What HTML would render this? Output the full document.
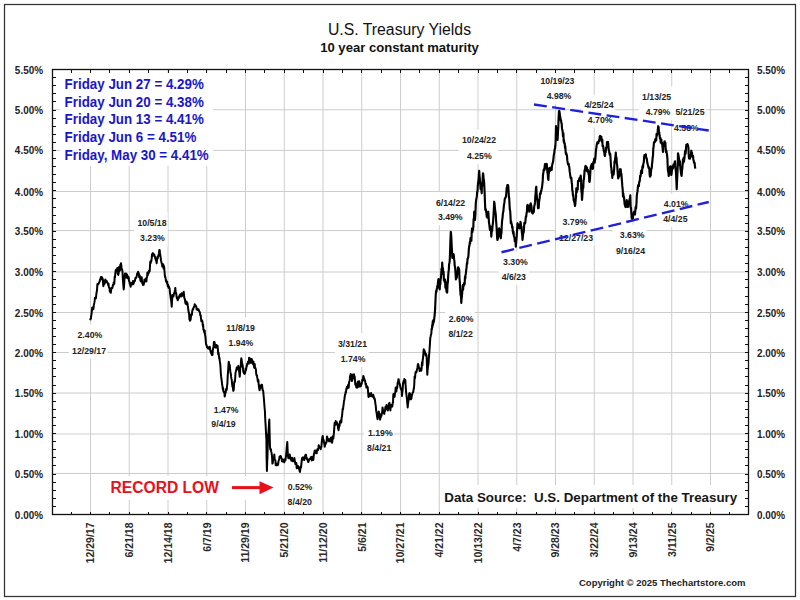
<!DOCTYPE html><html><head><meta charset="utf-8"><style>html,body{margin:0;padding:0;background:#fff;overflow:hidden}svg{display:block;font-family:"Liberation Sans",sans-serif;}</style></head><body>
<svg width="800" height="600" viewBox="0 0 800 600">
<rect x="0" y="0" width="800" height="600" fill="#fff"/>
<rect x="4.5" y="4.5" width="791" height="592" fill="none" stroke="#333" stroke-width="1.25"/>
<path d="M90.5 69.5V514.5M129.25 69.5V514.5M168.0 69.5V514.5M206.75 69.5V514.5M245.5 69.5V514.5M284.25 69.5V514.5M323.0 69.5V514.5M361.75 69.5V514.5M400.5 69.5V514.5M439.25 69.5V514.5M478.0 69.5V514.5M516.75 69.5V514.5M555.5 69.5V514.5M594.25 69.5V514.5M633.0 69.5V514.5M671.75 69.5V514.5M710.5 69.5V514.5M52.5 473.5H748.5M52.5 434.0H748.5M52.5 393.0H748.5M52.5 352.5H748.5M52.5 312.5H748.5M52.5 272.0H748.5M52.5 230.6H748.5M52.5 191.5H748.5M52.5 150.4H748.5M52.5 109.75H748.5" stroke="#cdcdcd" stroke-width="1" fill="none"/>
<rect x="60" y="73" width="153" height="93" fill="#fff"/>
<rect x="105" y="476" width="174" height="24" fill="#fff"/>
<rect x="441" y="485" width="304" height="23" fill="#fff"/>
<rect x="68.9" y="324.2" width="38.8" height="34.4" fill="#fff"/>
<rect x="134.2" y="212.2" width="33.4" height="34.0" fill="#fff"/>
<rect x="223.0" y="317.6" width="33.8" height="33.6" fill="#fff"/>
<rect x="207.8" y="399.9" width="32.1" height="32.2" fill="#fff"/>
<rect x="284.5" y="476.5" width="29.0" height="33.8" fill="#fff"/>
<rect x="334.8" y="333.2" width="33.9" height="33.6" fill="#fff"/>
<rect x="364.2" y="422.5" width="29.9" height="33.9" fill="#fff"/>
<rect x="432.8" y="192.0" width="34.0" height="33.2" fill="#fff"/>
<rect x="458.7" y="129.5" width="39.1" height="34.3" fill="#fff"/>
<rect x="445.1" y="308.9" width="29.5" height="33.5" fill="#fff"/>
<rect x="498.6" y="251.6" width="30.4" height="33.2" fill="#fff"/>
<rect x="537.2" y="70.3" width="39.0" height="33.9" fill="#fff"/>
<rect x="581.2" y="94.7" width="34.0" height="32.8" fill="#fff"/>
<rect x="556.0" y="211.3" width="38.6" height="34.2" fill="#fff"/>
<rect x="612.7" y="224.7" width="34.1" height="33.8" fill="#fff"/>
<rect x="638.8" y="86.3" width="34.2" height="33.5" fill="#fff"/>
<rect x="672.2" y="101.7" width="34.1" height="34.3" fill="#fff"/>
<rect x="660.0" y="193.8" width="29.7" height="33.5" fill="#fff"/>
<path d="M52.5 514.5h3.5M748.5 514.5h-3.5M52.5 506.5h3.5M748.5 506.5h-3.5M52.5 498.5h3.5M748.5 498.5h-3.5M52.5 490.5h3.5M748.5 490.5h-3.5M52.5 482.5h3.5M748.5 482.5h-3.5M52.5 474.5h3.5M748.5 474.5h-3.5M52.5 465.5h3.5M748.5 465.5h-3.5M52.5 457.5h3.5M748.5 457.5h-3.5M52.5 449.5h3.5M748.5 449.5h-3.5M52.5 441.5h3.5M748.5 441.5h-3.5M52.5 433.5h3.5M748.5 433.5h-3.5M52.5 425.5h3.5M748.5 425.5h-3.5M52.5 417.5h3.5M748.5 417.5h-3.5M52.5 409.5h3.5M748.5 409.5h-3.5M52.5 401.5h3.5M748.5 401.5h-3.5M52.5 393.5h3.5M748.5 393.5h-3.5M52.5 385.5h3.5M748.5 385.5h-3.5M52.5 376.5h3.5M748.5 376.5h-3.5M52.5 368.5h3.5M748.5 368.5h-3.5M52.5 360.5h3.5M748.5 360.5h-3.5M52.5 352.5h3.5M748.5 352.5h-3.5M52.5 344.5h3.5M748.5 344.5h-3.5M52.5 336.5h3.5M748.5 336.5h-3.5M52.5 328.5h3.5M748.5 328.5h-3.5M52.5 320.5h3.5M748.5 320.5h-3.5M52.5 312.5h3.5M748.5 312.5h-3.5M52.5 304.5h3.5M748.5 304.5h-3.5M52.5 296.5h3.5M748.5 296.5h-3.5M52.5 287.5h3.5M748.5 287.5h-3.5M52.5 279.5h3.5M748.5 279.5h-3.5M52.5 271.5h3.5M748.5 271.5h-3.5M52.5 263.5h3.5M748.5 263.5h-3.5M52.5 255.5h3.5M748.5 255.5h-3.5M52.5 247.5h3.5M748.5 247.5h-3.5M52.5 239.5h3.5M748.5 239.5h-3.5M52.5 231.5h3.5M748.5 231.5h-3.5M52.5 223.5h3.5M748.5 223.5h-3.5M52.5 215.5h3.5M748.5 215.5h-3.5M52.5 207.5h3.5M748.5 207.5h-3.5M52.5 198.5h3.5M748.5 198.5h-3.5M52.5 190.5h3.5M748.5 190.5h-3.5M52.5 182.5h3.5M748.5 182.5h-3.5M52.5 174.5h3.5M748.5 174.5h-3.5M52.5 166.5h3.5M748.5 166.5h-3.5M52.5 158.5h3.5M748.5 158.5h-3.5M52.5 150.5h3.5M748.5 150.5h-3.5M52.5 142.5h3.5M748.5 142.5h-3.5M52.5 134.5h3.5M748.5 134.5h-3.5M52.5 126.5h3.5M748.5 126.5h-3.5M52.5 118.5h3.5M748.5 118.5h-3.5M52.5 110.5h3.5M748.5 110.5h-3.5M52.5 101.5h3.5M748.5 101.5h-3.5M52.5 93.5h3.5M748.5 93.5h-3.5M52.5 85.5h3.5M748.5 85.5h-3.5M52.5 77.5h3.5M748.5 77.5h-3.5M52.5 69.5h3.5M748.5 69.5h-3.5M90.5 514.5v-3M90.5 69.5v3M109.875 514.5v-3M109.875 69.5v3M129.25 514.5v-3M129.25 69.5v3M148.625 514.5v-3M148.625 69.5v3M168.0 514.5v-3M168.0 69.5v3M187.375 514.5v-3M187.375 69.5v3M206.75 514.5v-3M206.75 69.5v3M226.125 514.5v-3M226.125 69.5v3M245.5 514.5v-3M245.5 69.5v3M264.875 514.5v-3M264.875 69.5v3M284.25 514.5v-3M284.25 69.5v3M303.625 514.5v-3M303.625 69.5v3M323.0 514.5v-3M323.0 69.5v3M342.375 514.5v-3M342.375 69.5v3M361.75 514.5v-3M361.75 69.5v3M381.125 514.5v-3M381.125 69.5v3M400.5 514.5v-3M400.5 69.5v3M419.875 514.5v-3M419.875 69.5v3M439.25 514.5v-3M439.25 69.5v3M458.625 514.5v-3M458.625 69.5v3M478.0 514.5v-3M478.0 69.5v3M497.375 514.5v-3M497.375 69.5v3M516.75 514.5v-3M516.75 69.5v3M536.125 514.5v-3M536.125 69.5v3M555.5 514.5v-3M555.5 69.5v3M574.875 514.5v-3M574.875 69.5v3M594.25 514.5v-3M594.25 69.5v3M613.625 514.5v-3M613.625 69.5v3M633.0 514.5v-3M633.0 69.5v3M652.375 514.5v-3M652.375 69.5v3M671.75 514.5v-3M671.75 69.5v3M691.125 514.5v-3M691.125 69.5v3M710.5 514.5v-3M710.5 69.5v3M729.9 514.5v-3M729.9 69.5v3M71.125 514.5v-3M71.125 69.5v3" stroke="#111" stroke-width="1" fill="none" shape-rendering="crispEdges"/>
<path d="M90.2 320.2 90.5 318.9 90.9 318.6 91.2 315.9 91.5 314.2 91.8 311.4 92.2 307.5 92.5 309.0 92.8 309.4 93.1 308.8 93.4 309.1 93.8 305.3 94.1 303.9 94.4 302.4 94.7 300.7 95.0 297.7 95.3 298.4 95.6 297.8 95.9 298.3 96.2 295.5 96.5 292.8 96.8 291.6 97.1 288.8 97.4 284.1 97.7 285.0 98.0 284.4 98.4 283.5 98.7 283.6 99.0 282.6 99.3 282.2 99.7 281.5 100.0 279.7 100.3 279.3 100.6 278.1 100.9 276.9 101.2 277.8 101.5 277.5 101.8 277.0 102.1 279.6 102.4 278.1 102.8 279.1 103.1 284.2 103.4 286.2 103.7 284.2 104.0 281.4 104.4 283.9 104.7 282.8 105.0 282.8 105.3 279.4 105.7 280.3 106.0 280.5 106.3 281.7 106.6 281.0 106.9 281.7 107.3 282.7 107.6 283.1 107.9 283.1 108.2 285.0 108.5 283.8 108.9 287.1 109.2 287.9 109.5 287.7 109.8 291.5 110.2 290.9 110.5 292.5 110.8 292.8 111.1 290.3 111.4 288.9 111.8 287.5 112.1 288.0 112.4 288.0 112.7 286.5 113.0 284.8 113.4 285.0 113.7 282.4 114.0 283.5 114.3 283.8 114.7 276.6 115.0 277.5 115.3 273.5 115.7 270.0 116.0 269.8 116.4 270.1 116.7 270.8 117.0 271.5 117.3 268.1 117.7 273.4 118.0 274.5 118.3 274.9 118.7 273.0 119.0 267.1 119.3 271.2 119.7 267.7 120.0 270.4 120.3 264.8 120.7 265.1 121.0 263.2 121.3 265.5 121.6 268.5 121.9 269.3 122.2 269.8 122.5 271.5 122.8 278.3 123.1 281.8 123.4 286.1 123.7 289.5 124.0 287.1 124.4 280.1 124.7 276.0 125.0 273.4 125.4 274.0 125.7 276.0 126.0 273.6 126.3 277.7 126.7 275.9 127.0 274.5 127.3 276.7 127.7 276.1 128.0 278.5 128.3 277.5 128.7 277.3 129.0 280.8 129.3 281.1 129.7 283.6 130.0 283.5 130.3 285.3 130.7 286.7 131.0 283.1 131.3 284.3 131.7 283.3 132.0 284.5 132.3 282.4 132.6 283.9 133.0 280.9 133.3 284.2 133.6 283.2 133.9 282.8 134.2 281.6 134.6 280.7 134.9 281.0 135.2 279.2 135.5 277.7 135.8 278.3 136.1 277.8 136.5 277.1 136.8 275.6 137.2 273.4 137.5 273.3 137.8 273.3 138.1 271.8 138.4 274.3 138.8 273.3 139.1 277.2 139.4 276.4 139.7 275.4 140.0 277.5 140.3 279.5 140.7 281.3 141.0 279.2 141.3 279.0 141.7 277.2 142.0 281.2 142.3 283.3 142.7 283.1 143.0 285.0 143.3 283.2 143.7 284.8 144.1 282.3 144.4 279.5 144.8 281.7 145.1 280.1 145.5 280.2 145.8 280.0 146.1 278.2 146.4 281.4 146.7 277.9 147.1 276.2 147.4 272.5 147.7 275.6 148.0 273.3 148.3 273.6 148.7 273.0 149.0 270.7 149.3 271.6 149.7 271.3 150.0 265.8 150.3 261.6 150.7 263.2 151.0 261.4 151.3 261.2 151.7 258.4 152.0 254.2 152.3 256.3 152.7 253.2 153.0 253.3 153.3 253.7 153.7 254.6 154.0 255.3 154.3 254.6 154.7 256.5 155.0 256.7 155.3 258.6 155.7 259.2 156.0 260.4 156.4 261.6 156.7 263.3 157.0 259.3 157.4 256.9 157.7 258.6 158.0 256.2 158.4 256.3 158.7 254.2 159.0 253.2 159.3 250.0 159.7 250.2 160.0 253.2 160.3 255.0 160.7 257.6 161.0 260.4 161.4 262.4 161.7 263.3 162.0 264.2 162.3 266.6 162.6 265.1 162.9 264.3 163.3 264.5 163.6 268.7 163.9 266.0 164.2 267.5 164.5 271.1 164.8 275.3 165.2 277.2 165.5 277.5 165.8 280.0 166.1 281.4 166.4 280.8 166.7 282.8 167.1 281.6 167.4 283.5 167.7 286.2 168.0 285.7 168.3 285.0 168.6 287.8 169.0 286.8 169.3 287.7 169.7 289.1 170.0 293.3 170.3 294.6 170.7 298.1 171.0 299.7 171.4 302.7 171.7 306.7 172.1 300.4 172.5 295.0 172.8 294.9 173.1 295.1 173.4 296.5 173.8 294.6 174.1 293.1 174.4 293.4 174.7 291.5 175.0 290.0 175.3 287.9 175.6 291.2 175.9 293.0 176.2 293.3 176.6 297.0 176.9 298.3 177.2 297.2 177.5 300.0 177.8 300.2 178.1 298.9 178.4 297.7 178.8 297.1 179.1 297.8 179.4 296.0 179.7 295.0 180.0 295.8 180.3 294.3 180.7 294.5 181.0 294.5 181.3 296.5 181.7 293.2 182.0 296.1 182.4 294.7 182.7 295.5 183.0 294.6 183.4 294.4 183.7 291.7 184.0 294.7 184.3 298.0 184.7 298.6 185.0 300.0 185.3 302.3 185.6 303.7 185.9 302.0 186.2 301.8 186.6 301.5 186.9 304.5 187.2 303.0 187.5 303.3 187.8 305.9 188.1 307.8 188.4 310.5 188.8 312.8 189.1 314.1 189.4 319.4 189.7 318.0 190.0 320.8 190.3 318.5 190.6 319.9 190.9 316.8 191.2 314.3 191.6 314.6 191.9 314.9 192.2 311.4 192.5 310.0 192.8 309.0 193.1 309.6 193.4 308.2 193.8 307.0 194.1 306.7 194.4 305.7 194.7 304.2 195.0 305.0 195.3 305.1 195.7 305.6 196.0 306.6 196.3 306.6 196.7 309.6 197.0 308.8 197.3 309.8 197.6 309.7 198.0 309.3 198.3 310.0 198.6 309.4 199.0 310.9 199.3 311.5 199.7 311.9 200.0 312.8 200.3 315.4 200.7 315.3 201.0 318.3 201.4 321.3 201.7 320.0 202.1 320.5 202.5 322.0 202.8 326.0 203.1 324.6 203.4 329.8 203.8 329.5 204.1 331.6 204.4 332.9 204.7 330.4 205.0 335.0 205.3 335.8 205.7 340.0 206.0 343.8 206.3 345.0 206.6 345.2 206.9 347.2 207.3 347.3 207.6 347.6 207.9 348.3 208.2 347.1 208.6 348.7 208.9 348.5 209.2 347.5 209.5 348.7 209.8 346.8 210.2 349.2 210.5 351.7 210.8 350.8 211.1 353.2 211.5 352.9 211.8 354.9 212.2 354.3 212.5 355.0 212.8 350.5 213.2 347.9 213.5 347.2 213.9 342.0 214.2 342.5 214.5 342.0 214.8 344.0 215.2 347.4 215.5 345.5 215.8 347.5 216.1 347.5 216.5 344.9 216.8 347.2 217.2 346.6 217.5 345.8 217.8 348.4 218.2 354.1 218.5 352.5 218.9 355.4 219.2 358.3 219.5 357.9 219.8 361.4 220.2 363.7 220.5 367.2 220.8 373.3 221.1 376.4 221.5 379.3 221.8 381.3 222.2 385.0 222.5 386.7 222.8 389.5 223.1 388.0 223.4 391.2 223.8 391.9 224.1 391.7 224.4 392.2 224.7 396.6 225.0 395.0 225.3 393.4 225.7 392.4 226.0 389.1 226.4 390.0 226.7 390.0 227.0 386.4 227.4 383.6 227.7 376.2 228.0 372.2 228.4 366.4 228.7 361.7 229.0 362.7 229.4 365.3 229.8 365.0 230.1 369.3 230.5 373.2 230.8 373.3 231.1 376.7 231.4 378.9 231.7 379.5 232.1 384.0 232.4 386.3 232.7 386.5 233.0 389.0 233.3 390.8 233.6 390.4 233.9 387.5 234.2 382.3 234.6 381.1 234.9 381.8 235.2 378.1 235.5 372.8 235.8 371.7 236.1 370.1 236.4 370.3 236.7 367.5 237.1 367.9 237.4 368.2 237.7 369.0 238.0 368.8 238.3 365.8 238.7 367.3 239.0 370.9 239.3 372.3 239.7 376.7 240.0 373.6 240.3 367.2 240.7 367.2 241.0 361.4 241.3 358.3 241.6 359.7 242.0 362.9 242.3 363.8 242.7 365.9 243.0 368.3 243.3 371.9 243.7 372.5 244.0 373.3 244.3 372.3 244.7 373.9 245.0 373.3 245.3 372.1 245.6 368.6 245.9 370.2 246.2 368.8 246.6 365.9 246.9 366.2 247.2 363.5 247.5 363.3 247.8 363.5 248.1 361.4 248.4 363.6 248.8 363.7 249.1 357.7 249.4 358.5 249.7 361.1 250.0 359.2 250.3 358.7 250.6 359.2 250.9 362.9 251.2 362.0 251.6 358.9 251.9 359.7 252.2 361.6 252.5 361.7 252.8 363.9 253.1 363.8 253.4 361.4 253.8 365.5 254.1 367.1 254.4 367.9 254.7 364.1 255.0 366.7 255.3 368.0 255.6 368.4 255.9 369.7 256.2 373.8 256.6 375.4 256.9 375.1 257.2 377.6 257.5 378.3 257.8 381.4 258.1 380.9 258.4 380.2 258.7 384.7 259.0 386.9 259.3 389.2 259.6 390.2 260.0 388.1 260.3 388.6 260.7 385.4 261.0 386.4 261.4 384.7 261.7 385.1 262.0 384.7 262.4 388.2 262.7 390.4 263.0 390.3 263.3 392.0 263.6 395.8 263.9 398.7 264.2 402.8 264.5 406.7 264.9 411.0 265.2 418.5 265.6 425.0 266.0 432.7 266.4 439.7 266.6 457.8 266.9 471.0 267.2 461.9 267.5 455.6 267.8 443.4 268.1 434.4 268.4 433.2 268.7 428.7 269.0 423.5 269.3 419.5 269.6 432.2 270.0 447.0 270.3 449.5 270.6 448.9 270.9 449.3 271.2 451.5 271.5 452.6 271.8 454.5 272.1 457.2 272.4 463.6 272.7 463.3 273.0 460.9 273.4 458.8 273.7 458.4 274.0 459.6 274.3 454.4 274.7 459.7 275.0 459.8 275.4 460.3 275.7 465.2 276.1 465.4 276.5 463.5 276.8 464.1 277.1 464.7 277.5 464.4 277.9 465.1 278.2 463.9 278.5 461.2 278.9 460.0 279.3 458.8 279.6 456.4 280.0 457.0 280.3 456.0 280.7 456.0 281.0 456.8 281.4 458.2 281.7 458.6 282.0 461.3 282.3 460.6 282.7 461.5 283.0 459.7 283.3 459.5 283.7 460.3 284.0 460.0 284.3 462.3 284.7 459.7 285.0 459.1 285.3 460.6 285.7 458.5 286.0 456.0 286.3 453.1 286.6 449.3 287.0 444.6 287.3 442.0 287.6 449.8 288.0 456.0 288.3 458.1 288.7 458.2 289.0 456.9 289.3 456.9 289.7 454.5 290.0 456.0 290.3 458.4 290.7 459.3 291.0 458.8 291.4 460.8 291.7 459.2 292.0 457.7 292.4 460.1 292.7 461.3 293.0 460.9 293.4 460.4 293.7 461.3 294.0 461.0 294.4 458.0 294.7 460.7 295.0 461.4 295.3 464.0 295.7 462.9 296.0 464.0 296.3 463.0 296.7 468.2 297.0 467.1 297.3 465.7 297.7 465.7 298.0 466.0 298.3 468.2 298.7 467.1 299.0 467.4 299.3 469.9 299.7 471.2 300.0 472.0 300.3 469.2 300.7 466.5 301.0 467.6 301.3 464.9 301.7 460.6 302.0 458.7 302.3 457.9 302.7 459.8 303.0 457.2 303.3 457.9 303.7 457.8 304.0 458.7 304.3 460.0 304.7 458.5 305.0 457.1 305.3 455.1 305.7 454.8 306.0 454.7 306.3 457.0 306.7 458.9 307.0 458.2 307.3 459.8 307.7 459.9 308.0 461.3 308.3 462.0 308.7 461.1 309.0 459.8 309.4 459.1 309.7 459.1 310.0 459.0 310.4 458.1 310.7 457.3 311.0 457.1 311.4 457.0 311.7 460.4 312.0 456.8 312.3 458.4 312.6 458.3 313.0 459.1 313.3 460.0 313.6 457.1 314.0 453.4 314.4 452.6 314.7 450.7 315.0 450.5 315.4 450.7 315.7 452.3 316.0 453.3 316.4 451.9 316.7 453.3 317.0 450.8 317.4 449.3 317.7 449.2 318.0 450.2 318.4 447.9 318.7 445.3 319.0 445.9 319.4 447.8 319.7 447.1 320.0 447.8 320.4 448.1 320.7 449.3 321.0 447.4 321.4 446.9 321.7 442.7 322.0 439.5 322.4 437.4 322.7 436.0 323.0 438.0 323.4 441.5 323.7 440.1 324.0 442.8 324.4 444.0 324.7 446.7 325.0 445.3 325.4 444.3 325.7 443.7 326.0 442.5 326.3 442.7 326.6 441.6 327.0 436.4 327.3 437.3 327.6 439.4 328.0 440.3 328.3 439.0 328.6 440.9 329.0 439.4 329.3 441.3 329.6 441.0 330.0 441.5 330.3 439.3 330.6 438.4 331.0 437.4 331.3 437.5 331.6 441.4 332.0 442.8 332.3 441.7 332.6 438.7 333.0 436.1 333.3 438.7 333.6 436.0 334.0 432.1 334.4 425.9 334.7 422.7 335.0 424.6 335.4 423.6 335.7 421.0 336.0 424.7 336.4 422.4 336.7 422.0 337.0 423.6 337.3 423.3 337.7 424.3 338.0 428.1 338.3 429.3 338.6 430.2 339.0 426.9 339.3 425.0 339.6 426.0 340.0 421.3 340.3 421.6 340.7 421.3 341.0 420.0 341.3 422.5 341.7 417.2 342.0 416.5 342.3 413.1 342.7 408.7 343.0 409.3 343.3 406.9 343.7 403.6 344.0 401.0 344.3 400.0 344.7 397.0 345.0 394.7 345.3 394.6 345.7 391.7 346.0 392.3 346.3 389.1 346.7 387.8 347.0 386.7 347.3 388.6 347.7 386.7 348.0 385.3 348.3 384.7 348.7 387.8 349.0 382.7 349.3 381.4 349.7 381.0 350.0 376.3 350.4 375.9 350.7 374.0 351.0 375.0 351.3 374.9 351.7 375.7 352.0 381.1 352.3 380.0 352.6 376.8 353.0 374.5 353.4 378.2 353.7 374.7 354.0 374.3 354.4 377.2 354.7 376.7 355.0 380.6 355.3 384.8 355.6 384.4 356.0 384.0 356.3 387.3 356.6 386.1 357.0 387.8 357.3 384.6 357.6 382.3 358.0 381.5 358.3 382.5 358.7 386.7 359.0 382.7 359.3 381.3 359.7 385.5 360.0 383.9 360.3 386.6 360.7 384.4 361.0 386.0 361.3 383.5 361.7 383.8 362.0 381.9 362.3 379.5 362.7 379.7 363.0 378.7 363.3 375.9 363.7 376.9 364.0 380.5 364.4 379.0 364.7 380.4 365.0 380.4 365.4 383.1 365.7 384.7 366.0 383.6 366.4 387.6 366.7 385.8 367.0 387.0 367.4 386.8 367.7 387.3 368.1 392.2 368.5 397.0 368.8 396.9 369.2 393.6 369.5 394.7 369.8 394.5 370.1 396.1 370.5 393.6 370.8 395.8 371.1 393.0 371.5 396.3 371.8 395.1 372.2 396.1 372.5 395.3 372.9 396.7 373.2 394.7 373.6 396.3 373.9 397.8 374.3 398.8 374.6 398.4 374.9 399.9 375.2 402.2 375.5 404.6 375.8 406.0 376.1 410.1 376.4 412.0 376.7 413.3 377.0 416.1 377.3 418.0 377.6 419.2 378.0 416.9 378.3 414.1 378.7 411.5 379.0 412.2 379.4 414.8 379.7 415.7 380.1 419.7 380.4 417.6 380.8 417.4 381.1 414.3 381.5 416.0 381.8 413.3 382.2 412.1 382.5 407.5 382.9 409.4 383.2 411.7 383.6 412.8 383.9 412.6 384.3 413.9 384.7 411.2 385.0 411.2 385.4 406.9 385.8 409.7 386.1 407.3 386.5 405.1 386.8 406.0 387.2 409.3 387.5 406.8 387.9 410.4 388.2 406.3 388.6 406.6 388.9 403.4 389.2 403.6 389.5 402.9 389.8 407.3 390.1 408.7 390.4 410.4 390.8 404.9 391.1 406.6 391.4 406.1 391.8 405.8 392.1 406.7 392.4 406.0 392.7 402.8 393.0 402.8 393.3 394.7 393.6 393.9 394.0 395.9 394.3 395.8 394.6 396.9 395.0 393.6 395.3 391.8 395.7 387.6 396.0 389.2 396.4 391.5 396.7 388.7 397.1 388.0 397.4 386.5 397.7 382.3 398.1 382.8 398.4 379.3 398.7 379.3 399.0 382.4 399.3 383.3 399.7 383.8 400.0 385.0 400.3 386.7 400.6 388.3 401.0 389.5 401.3 388.9 401.7 390.6 402.0 396.0 402.3 391.9 402.6 390.9 403.0 382.8 403.3 384.0 403.6 380.9 404.0 381.6 404.3 379.0 404.6 382.1 405.0 381.1 405.3 380.0 405.6 385.0 406.0 390.7 406.3 394.0 406.7 397.2 407.0 399.5 407.3 403.7 407.7 407.5 408.0 404.0 408.3 401.9 408.6 400.3 409.0 394.5 409.3 393.3 409.6 393.1 410.0 393.8 410.4 399.2 410.7 398.7 411.0 399.3 411.4 398.5 411.7 396.5 412.0 394.6 412.3 394.4 412.6 392.7 413.0 392.2 413.3 392.0 413.6 389.3 414.0 388.1 414.3 383.8 414.6 376.5 415.0 378.2 415.3 374.7 415.6 372.0 416.0 372.0 416.4 372.4 416.7 370.7 417.0 369.9 417.4 367.9 417.7 365.4 418.0 364.0 418.3 364.6 418.6 365.8 419.0 368.2 419.3 368.0 419.6 371.0 420.0 370.0 420.3 370.8 420.6 370.4 421.0 368.3 421.3 370.7 421.6 368.5 422.0 362.2 422.4 365.1 422.7 360.0 423.0 358.3 423.4 353.5 423.7 349.3 424.0 350.5 424.3 350.0 424.7 351.2 425.0 352.4 425.3 353.3 425.6 355.4 426.0 353.9 426.4 355.0 426.7 357.3 427.0 367.3 427.3 374.7 427.6 370.2 428.0 366.5 428.4 364.3 428.7 361.3 429.0 356.1 429.4 352.1 429.7 347.0 430.0 342.7 430.3 337.7 430.6 336.7 430.9 334.9 431.3 333.9 431.6 329.7 431.9 328.4 432.2 327.0 432.5 324.6" fill="none" stroke="#000" stroke-width="2.0" stroke-linejoin="round"/><path d="M431.6 329.7 431.9 328.4 432.2 327.0 432.5 324.6 432.8 321.1 433.1 324.5 433.4 320.0 433.7 322.2 434.0 320.8 434.4 317.2 434.7 315.0 435.1 309.1 435.5 300.0 435.8 294.2 436.1 290.9 436.4 292.0 436.7 289.5 437.0 288.0 437.3 285.8 437.6 287.8 437.9 283.1 438.2 280.7 438.5 279.0 438.8 279.3 439.1 281.6 439.4 286.7 439.7 289.5 440.0 283.8 440.3 284.4 440.6 279.5 440.9 278.2 441.2 274.5 441.5 268.9 441.9 269.3 442.2 262.5 442.6 269.6 442.9 268.0 443.3 274.5 443.6 271.8 443.9 280.1 444.2 280.6 444.5 280.5 444.8 282.4 445.1 279.6 445.4 287.6 445.7 281.5 446.0 288.0 446.3 289.6 446.6 291.9 446.9 292.3 447.2 292.5 447.5 284.7 447.9 281.9 448.2 276.0 448.5 271.9 448.8 270.3 449.1 264.2 449.4 263.4 449.7 261.0 450.1 251.0 450.4 240.6 450.8 231.8 451.1 234.1 451.4 238.7 451.7 246.0 452.0 250.9 452.3 258.0 452.6 255.0 452.9 255.6 453.2 257.4 453.5 254.1 453.8 255.0 454.1 259.4 454.4 260.8 454.7 265.7 455.0 267.0 455.3 269.6 455.6 274.5 455.9 279.4 456.2 275.2 456.5 277.5 456.8 277.8 457.1 274.4 457.4 273.7 457.7 270.0 458.0 267.2 458.3 267.2 458.6 269.3 458.9 268.6 459.2 270.0 459.5 279.0 459.9 283.1 460.2 289.5 460.6 295.3 460.9 295.0 461.3 303.0 461.6 298.6 461.9 296.5 462.2 293.0 462.5 289.5 462.8 285.2 463.1 289.6 463.4 285.3 463.8 285.7 464.1 283.1 464.4 284.6 464.7 283.5 465.0 276.5 465.3 278.7 465.6 274.7 465.9 273.4 466.2 270.0 466.5 267.9 466.9 263.4 467.2 263.9 467.5 259.2 467.8 258.5 468.2 257.3 468.5 255.0 468.8 249.5 469.2 246.1 469.5 245.6 469.8 242.0 470.1 243.4 470.5 238.0 470.8 240.0 471.1 238.9 471.4 240.8 471.7 232.7 472.1 228.4 472.4 232.1 472.7 230.3 473.0 229.5 473.3 227.4 473.6 219.0 473.9 219.8 474.2 211.7 474.6 217.6 475.0 220.0 475.4 214.1 475.8 203.3 476.1 200.1 476.5 198.1 476.8 196.7 477.2 191.9 477.5 191.7 477.8 185.5 478.2 182.0 478.5 180.3 478.9 174.4 479.2 170.8 479.6 176.6 479.9 179.6 480.3 185.0 480.6 189.2 481.0 187.1 481.4 189.1 481.7 193.3 482.0 183.0 482.4 185.6 482.7 177.8 483.0 173.3 483.3 174.9 483.6 178.9 483.9 179.9 484.2 183.3 484.6 192.1 485.0 203.3 485.3 209.9 485.7 208.9 486.0 211.1 486.4 212.7 486.7 216.7 487.0 215.2 487.3 217.7 487.7 214.6 488.0 214.1 488.3 211.7 488.6 216.3 489.0 222.6 489.4 225.2 489.7 228.3 490.0 230.0 490.3 226.1 490.7 228.0 491.0 230.0 491.3 236.7 491.6 232.6 491.9 229.1 492.2 230.9 492.5 226.7 492.8 224.1 493.2 219.8 493.5 215.4 493.9 208.1 494.2 201.7 494.5 203.7 494.8 206.7 495.2 210.6 495.5 212.6 495.8 215.0 496.1 221.1 496.5 226.0 496.8 231.5 497.2 238.4 497.5 240.0 497.8 238.8 498.2 235.6 498.5 232.1 498.9 228.9 499.2 228.3 499.5 229.8 499.8 230.4 500.2 236.4 500.5 237.3 500.8 238.3 501.1 234.7 501.5 232.3 501.8 225.0 502.2 219.7 502.5 218.3 502.8 214.3 503.1 212.4 503.4 211.1 503.8 206.5 504.1 204.2 504.4 202.7 504.7 199.5 505.0 198.3 505.3 197.7 505.7 197.5 506.0 196.4 506.3 193.0 506.7 187.9 507.0 188.3 507.3 185.0 507.7 185.0 508.0 185.0 508.3 186.6 508.6 192.0 508.9 196.8 509.2 198.3 509.5 204.4 509.8 209.3 510.2 211.1 510.5 216.2 510.8 223.3 511.1 221.2 511.5 223.7 511.8 224.3 512.2 227.8 512.5 226.7 512.8 231.4 513.2 233.5 513.5 231.7 513.9 236.2 514.2 236.7 514.5 237.8 514.8 241.4 515.2 241.6 515.5 241.6 515.8 246.7 516.1 242.8 516.5 238.7 516.8 234.9 517.2 228.3 517.5 223.3 517.8 227.8 518.2 224.4 518.5 225.4 518.9 227.1 519.2 228.3 519.5 228.3 519.8 225.8 520.2 225.7 520.5 221.9 520.8 223.3 521.1 227.9 521.5 226.5 521.8 232.0 522.2 234.8 522.5 240.0 522.8 237.2 523.1 234.4 523.4 232.8 523.8 231.8 524.1 226.4 524.4 222.6 524.7 223.9 525.0 223.3 525.3 222.5 525.6 219.2 525.9 216.3 526.2 216.7 526.6 212.8 526.9 212.3 527.2 205.5 527.5 205.0 527.8 206.7 528.2 205.7 528.5 207.3 528.9 205.8 529.2 211.7 529.5 210.8 529.8 209.7 530.2 208.5 530.5 203.7 530.8 203.3 531.1 205.5 531.5 206.5 531.8 212.4 532.2 210.7 532.5 213.3 532.8 213.6 533.1 212.1 533.4 212.0 533.8 211.9 534.1 207.8 534.4 205.2 534.7 205.0 535.0 202.4 535.3 196.4 535.7 192.7 536.0 187.8 536.3 186.7 536.6 193.8 537.0 198.1 537.3 199.9 537.7 202.9 538.0 208.3 538.3 204.9 538.7 207.9 539.0 202.4 539.4 199.5 539.7 198.3 540.0 193.3 540.4 193.3 540.7 193.8 541.0 191.0 541.4 190.8 541.7 188.3 542.0 187.5 542.4 183.9 542.7 180.9 543.0 175.0 543.3 173.0 543.7 169.6 544.0 169.2 544.3 170.5 544.7 166.2 545.0 164.0 545.3 164.1 545.7 164.1 546.0 168.4 546.3 164.6 546.7 163.9 547.0 166.0 547.4 173.0 547.7 172.4 548.0 178.5 548.4 180.0 548.7 173.9 549.0 172.6 549.3 168.4 549.6 168.0 549.9 170.2 550.3 170.0 550.6 170.6 551.0 169.0 551.3 167.2 551.7 169.9 552.0 166.0 552.3 164.5 552.7 162.8 553.0 162.2 553.3 159.8 553.7 155.8 554.0 154.0 554.3 152.8 554.6 149.6 555.0 148.8 555.3 146.5 555.6 142.0 556.0 126.0 556.3 130.2 556.6 130.4 557.0 136.9 557.3 135.4 557.6 140.0 558.0 131.7 558.3 126.9 558.6 118.1 559.0 111.0 559.3 110.9 559.7 113.2 560.0 116.0 560.3 117.1 560.7 120.4 561.0 120.0 561.4 123.1 561.7 123.6 562.0 129.0 562.4 130.0 562.7 132.1 563.0 136.5 563.4 133.3 563.7 141.8 564.0 140.0 564.3 143.5 564.7 143.2 565.0 148.0 565.3 146.2 565.7 152.5 566.0 154.2 566.3 153.2 566.7 154.7 567.0 156.0 567.3 160.2 567.7 162.7 568.0 163.9 568.3 164.8 568.7 163.8 569.0 166.0 569.3 167.1 569.7 171.4 570.0 173.4 570.3 176.1 570.7 178.0 571.0 178.0 571.3 177.6 571.7 182.2 572.0 184.0 572.3 190.6 572.6 190.9 573.0 195.8 573.3 195.0 573.6 200.0 574.0 200.9 574.3 201.8 574.6 203.6 575.0 206.0 575.3 204.4 575.7 199.4 576.0 197.3 576.3 188.3 576.7 192.3 577.0 190.0 577.3 188.8 577.7 189.6 578.0 180.8 578.3 181.5 578.7 180.6 579.0 180.0 579.3 178.6 579.7 177.7 580.0 179.1 580.3 181.2 580.7 175.6 581.0 178.0 581.3 189.9 581.7 193.5 582.0 200.0 582.3 196.8 582.6 192.2 583.0 185.4 583.3 187.9 583.6 180.0 583.9 179.7 584.3 174.3 584.6 170.1 584.9 171.0 585.3 166.4 585.6 166.0 585.9 167.6 586.3 166.6 586.6 170.4 587.0 167.7 587.3 171.5 587.7 171.6 588.0 170.0 588.3 171.8 588.6 174.0 589.0 175.5 589.3 181.7 589.6 182.0 590.0 178.4 590.3 172.9 590.6 168.3 591.0 166.0 591.3 166.0 591.7 164.0 592.0 166.7 592.3 166.4 592.7 168.8 593.0 168.0 593.3 162.0 593.7 162.8 594.0 160.3 594.3 158.7 594.7 162.6 595.0 160.0 595.3 159.1 595.7 153.9 596.0 149.3 596.3 148.5 596.7 144.8 597.0 144.0 597.3 142.4 597.7 142.6 598.0 142.0 598.3 143.3 598.7 141.2 599.0 140.3 599.3 141.1 599.7 136.5 600.0 136.0 600.3 136.2 600.7 136.6 601.0 137.4 601.3 136.7 601.7 140.9 602.0 142.0 602.3 139.5 602.6 146.1 603.0 145.6 603.3 147.2 603.6 150.0 604.0 151.4 604.3 152.6 604.6 155.2 605.0 156.0 605.3 152.4 605.7 152.4 606.0 147.9 606.3 148.1 606.7 146.3 607.0 142.0 607.3 142.2 607.7 142.3 608.0 141.8 608.3 143.8 608.7 150.5 609.0 150.0 609.3 152.8 609.7 154.8 610.0 153.3 610.3 154.4 610.7 160.8 611.0 166.2 611.4 168.3 611.7 173.3 612.0 171.0 612.3 178.0 612.6 172.3 613.0 174.7 613.3 173.7 613.6 174.7 613.9 172.1 614.2 168.3 614.5 161.3 614.8 162.5 615.2 158.2 615.5 156.1 615.8 152.5 616.1 159.2 616.5 157.6 616.8 163.7 617.2 165.4 617.5 170.0 617.8 174.3 618.2 178.4 618.5 177.2 618.9 175.1 619.2 176.7 619.6 173.5 620.0 169.2 620.3 170.7 620.7 169.4 621.0 174.4 621.4 173.9 621.7 178.3 622.0 181.3 622.3 185.9 622.7 189.5 623.0 196.7 623.3 193.3 623.6 196.5 624.0 196.9 624.3 200.8 624.7 204.7 625.0 205.0 625.3 206.7 625.7 207.0 626.0 202.9 626.4 203.3 626.7 200.0 627.0 204.0 627.3 206.9 627.7 207.0 628.0 205.9 628.3 206.7 628.6 201.5 629.0 201.3 629.3 201.2 629.7 198.7 630.0 198.3 630.3 195.4 630.7 208.0 631.0 207.7 631.4 213.8 631.7 218.3 632.0 215.1 632.3 217.7 632.7 220.1 633.0 216.8 633.3 215.0 633.6 213.2 633.9 212.4 634.2 211.6 634.5 211.7 634.9 214.5 635.2 212.4 635.5 208.3 635.8 206.7 636.1 208.4 636.5 202.9 636.8 195.8 637.2 192.8 637.5 191.7 637.8 187.9 638.2 185.0 638.5 185.6 638.9 186.1 639.2 181.7 639.5 181.8 639.8 180.7 640.1 175.8 640.5 176.5 640.8 174.2 641.1 170.9 641.4 172.2 641.7 170.0 642.0 173.2 642.3 168.0 642.6 166.0 643.0 167.6 643.3 163.9 643.6 163.0 643.9 161.0 644.2 156.7 644.5 155.0 644.8 157.5 645.1 157.3 645.5 157.2 645.8 154.4 646.1 157.3 646.4 157.8 646.7 158.3 647.0 160.5 647.3 162.8 647.7 164.3 648.0 165.2 648.3 166.7 648.6 167.9 649.0 167.4 649.3 168.7 649.7 174.8 650.0 176.7 650.3 174.9 650.7 175.8 651.0 171.3 651.4 168.3 651.7 168.3 652.0 164.6 652.3 161.8 652.7 157.3 653.0 155.8 653.3 148.3 653.6 146.7 654.0 142.2 654.3 142.1 654.7 142.2 655.0 141.7 655.3 139.0 655.6 140.5 655.9 138.8 656.2 140.4 656.6 133.8 656.9 135.9 657.2 134.4 657.5 133.3 657.9 128.9 658.2 126.2 658.6 127.0 659.0 133.2 659.3 132.5 659.6 135.5 660.0 138.7 660.3 137.7 660.7 142.6 661.0 139.7 661.3 139.4 661.7 143.7 662.0 142.7 662.3 144.7 662.6 147.8 663.0 152.0 663.3 146.7 663.6 146.5 664.0 145.0 664.4 141.6 664.7 141.3 665.0 144.5 665.4 142.8 665.7 149.7 666.0 152.0 666.3 150.5 666.7 152.9 667.0 154.7 667.4 158.3 667.7 166.7 668.0 171.4 668.4 172.3 668.7 176.0 669.0 173.5 669.4 172.4 669.7 168.8 670.0 166.7 670.3 170.8 670.7 166.3 671.0 173.4 671.3 175.0 671.7 172.7 672.0 169.3 672.3 167.3 672.6 166.4 673.0 168.5 673.3 165.3 673.6 164.3 674.0 166.4 674.3 164.4 674.7 162.2 675.0 161.3 675.3 166.3 675.7 170.0 676.0 173.3 676.4 181.8 676.7 189.3 677.0 182.1 677.4 174.2 677.7 166.6 678.0 153.3 678.3 154.9 678.6 156.0 679.0 159.1 679.3 160.0 679.6 165.2 680.0 161.2 680.4 168.4 680.7 170.7 681.0 173.0 681.3 175.0 681.6 176.0 682.0 170.9 682.3 168.5 682.7 164.0 683.0 159.3 683.4 162.6 683.7 157.8 684.0 161.3 684.3 159.2 684.6 157.0 685.0 151.5 685.3 150.7 685.6 153.7 686.0 148.5 686.3 144.9 686.6 146.1 687.0 145.1 687.3 144.0 687.6 144.4 688.0 145.8 688.4 147.2 688.7 154.7 689.0 158.5 689.4 155.5 689.7 158.4 690.0 158.7 690.3 155.6 690.6 154.8 691.0 154.5 691.3 150.7 691.6 153.2 692.0 152.8 692.4 156.8 692.7 157.3 693.0 155.7 693.4 159.9 693.7 160.6 694.0 162.7 694.3 162.4 694.6 162.7 695.0 166.8 695.3 168.7" fill="none" stroke="#000" stroke-width="2.15" stroke-linejoin="round"/>
<rect x="52.5" y="69.5" width="696.0" height="445.0" fill="none" stroke="#111" stroke-width="1.3"/>
<g font-size="10.8" font-weight="bold" fill="#222">
<text transform="translate(43,518.5) scale(0.92,1)" text-anchor="end">0.00%</text>
<text transform="translate(757,518.5) scale(0.92,1)">0.00%</text>
<text transform="translate(43,477.5) scale(0.92,1)" text-anchor="end">0.50%</text>
<text transform="translate(757,477.5) scale(0.92,1)">0.50%</text>
<text transform="translate(43,438.0) scale(0.92,1)" text-anchor="end">1.00%</text>
<text transform="translate(757,438.0) scale(0.92,1)">1.00%</text>
<text transform="translate(43,397.0) scale(0.92,1)" text-anchor="end">1.50%</text>
<text transform="translate(757,397.0) scale(0.92,1)">1.50%</text>
<text transform="translate(43,356.5) scale(0.92,1)" text-anchor="end">2.00%</text>
<text transform="translate(757,356.5) scale(0.92,1)">2.00%</text>
<text transform="translate(43,316.5) scale(0.92,1)" text-anchor="end">2.50%</text>
<text transform="translate(757,316.5) scale(0.92,1)">2.50%</text>
<text transform="translate(43,276.0) scale(0.92,1)" text-anchor="end">3.00%</text>
<text transform="translate(757,276.0) scale(0.92,1)">3.00%</text>
<text transform="translate(43,234.6) scale(0.92,1)" text-anchor="end">3.50%</text>
<text transform="translate(757,234.6) scale(0.92,1)">3.50%</text>
<text transform="translate(43,195.5) scale(0.92,1)" text-anchor="end">4.00%</text>
<text transform="translate(757,195.5) scale(0.92,1)">4.00%</text>
<text transform="translate(43,154.4) scale(0.92,1)" text-anchor="end">4.50%</text>
<text transform="translate(757,154.4) scale(0.92,1)">4.50%</text>
<text transform="translate(43,113.8) scale(0.92,1)" text-anchor="end">5.00%</text>
<text transform="translate(757,113.8) scale(0.92,1)">5.00%</text>
<text transform="translate(43,73.5) scale(0.92,1)" text-anchor="end">5.50%</text>
<text transform="translate(757,73.5) scale(0.92,1)">5.50%</text>
</g>
<g font-size="10.5" font-weight="bold" fill="#2a2a2a" text-anchor="end">
<text transform="translate(94.3,522.5) rotate(-90)">12/29/17</text>
<text transform="translate(133.1,522.5) rotate(-90)">6/21/18</text>
<text transform="translate(171.8,522.5) rotate(-90)">12/14/18</text>
<text transform="translate(210.6,522.5) rotate(-90)">6/7/19</text>
<text transform="translate(249.3,522.5) rotate(-90)">11/29/19</text>
<text transform="translate(288.1,522.5) rotate(-90)">5/21/20</text>
<text transform="translate(326.8,522.5) rotate(-90)">11/12/20</text>
<text transform="translate(365.6,522.5) rotate(-90)">5/6/21</text>
<text transform="translate(404.3,522.5) rotate(-90)">10/27/21</text>
<text transform="translate(443.1,522.5) rotate(-90)">4/21/22</text>
<text transform="translate(481.8,522.5) rotate(-90)">10/13/22</text>
<text transform="translate(520.5,522.5) rotate(-90)">4/7/23</text>
<text transform="translate(559.3,522.5) rotate(-90)">9/28/23</text>
<text transform="translate(598.0,522.5) rotate(-90)">3/22/24</text>
<text transform="translate(636.8,522.5) rotate(-90)">9/13/24</text>
<text transform="translate(675.5,522.5) rotate(-90)">3/11/25</text>
<text transform="translate(714.3,522.5) rotate(-90)">9/2/25</text>
</g>
<text x="399.5" y="35" font-size="15.8" text-anchor="middle" fill="#111">U.S. Treasury Yields</text>
<text x="399.5" y="52" font-size="13.1" font-weight="bold" text-anchor="middle" fill="#111">10 year constant maturity</text>
<g font-size="9.4" font-weight="bold" text-anchor="middle" fill="#222">
<text transform="translate(89.88,337.75) scale(0.93,1)">2.40%</text>
<text transform="translate(89.08,353.6) scale(0.93,1)">12/29/17</text>
<text transform="translate(152.0,225.7) scale(0.93,1)">10/5/18</text>
<text transform="translate(152.45,241.2) scale(0.93,1)">3.23%</text>
<text transform="translate(240.65,331.1) scale(0.93,1)">11/8/19</text>
<text transform="translate(240.95,346.25) scale(0.93,1)">1.94%</text>
<text transform="translate(226.2,413.4) scale(0.93,1)">1.47%</text>
<text transform="translate(223.5,427.1) scale(0.93,1)">9/4/19</text>
<text transform="translate(300.0,490.0) scale(0.93,1)">0.52%</text>
<text transform="translate(299.75,505.3) scale(0.93,1)">8/4/20</text>
<text transform="translate(352.5,346.75) scale(0.93,1)">3/31/21</text>
<text transform="translate(353.05,361.9) scale(0.93,1)">1.74%</text>
<text transform="translate(380.35,436.0) scale(0.93,1)">1.19%</text>
<text transform="translate(379.15,451.4) scale(0.93,1)">8/4/21</text>
<text transform="translate(450.55,205.5) scale(0.93,1)">6/14/22</text>
<text transform="translate(450.25,220.2) scale(0.93,1)">3.49%</text>
<text transform="translate(479.0,143.0) scale(0.93,1)">10/24/22</text>
<text transform="translate(479.35,158.8) scale(0.93,1)">4.25%</text>
<text transform="translate(461.05,322.4) scale(0.93,1)">2.60%</text>
<text transform="translate(460.6,337.4) scale(0.93,1)">8/1/22</text>
<text transform="translate(515.45,265.1) scale(0.93,1)">3.30%</text>
<text transform="translate(513.8,279.8) scale(0.93,1)">4/6/23</text>
<text transform="translate(557.45,83.8) scale(0.93,1)">10/19/23</text>
<text transform="translate(559.0,99.2) scale(0.93,1)">4.98%</text>
<text transform="translate(598.95,108.2) scale(0.93,1)">4/25/24</text>
<text transform="translate(600.2,122.5) scale(0.93,1)">4.70%</text>
<text transform="translate(574.95,224.8) scale(0.93,1)">3.79%</text>
<text transform="translate(576.05,240.5) scale(0.93,1)">12/27/23</text>
<text transform="translate(632.2,238.2) scale(0.93,1)">3.63%</text>
<text transform="translate(630.5,253.5) scale(0.93,1)">9/16/24</text>
<text transform="translate(656.65,99.8) scale(0.93,1)">1/13/25</text>
<text transform="translate(658.0,114.8) scale(0.93,1)">4.79%</text>
<text transform="translate(690.0,115.2) scale(0.93,1)">5/21/25</text>
<text transform="translate(686.45,131.0) scale(0.93,1)">4.58%</text>
<text transform="translate(676.2,207.3) scale(0.93,1)">4.01%</text>
<text transform="translate(675.35,222.3) scale(0.93,1)">4/4/25</text>
</g>
<g font-size="14" font-weight="bold" fill="#1a16c8">
<text transform="translate(64.6,88.80) scale(0.955,1)">Friday Jun 27 = 4.29%</text>
<text transform="translate(64.6,106.52) scale(0.955,1)">Friday Jun 20 = 4.38%</text>
<text transform="translate(64.6,124.24) scale(0.955,1)">Friday Jun 13 = 4.41%</text>
<text transform="translate(64.6,141.96) scale(0.955,1)">Friday Jun 6 = 4.51%</text>
<text transform="translate(64.6,159.68) scale(0.955,1)">Friday, May 30 = 4.41%</text>
</g>
<text x="110.6" y="493.2" font-size="15.6" font-weight="bold" fill="#e8101a">RECORD LOW</text>
<path d="M232 487.6H262" stroke="#e8101a" stroke-width="3"/><path d="M259.5 481.2L273.5 487.6L259.5 494.2Z" fill="#e8101a"/>
<text x="444.3" y="501.6" font-size="13.35" font-weight="bold" fill="#161616" style="white-space:pre" xml:space="preserve">Data Source:  U.S. Department of the Treasury</text>
<text x="579" y="585.8" font-size="9.5" font-weight="bold" fill="#222">Copyright © 2025 Thechartstore.com</text>
<g stroke="#2020d8" stroke-width="2.35" stroke-dasharray="12.9 5.44" fill="none">
<path d="M534 104.5L708.75 130.5"/>
<path d="M501.5 252.25L708.75 202"/>
</g>
</svg></body></html>
